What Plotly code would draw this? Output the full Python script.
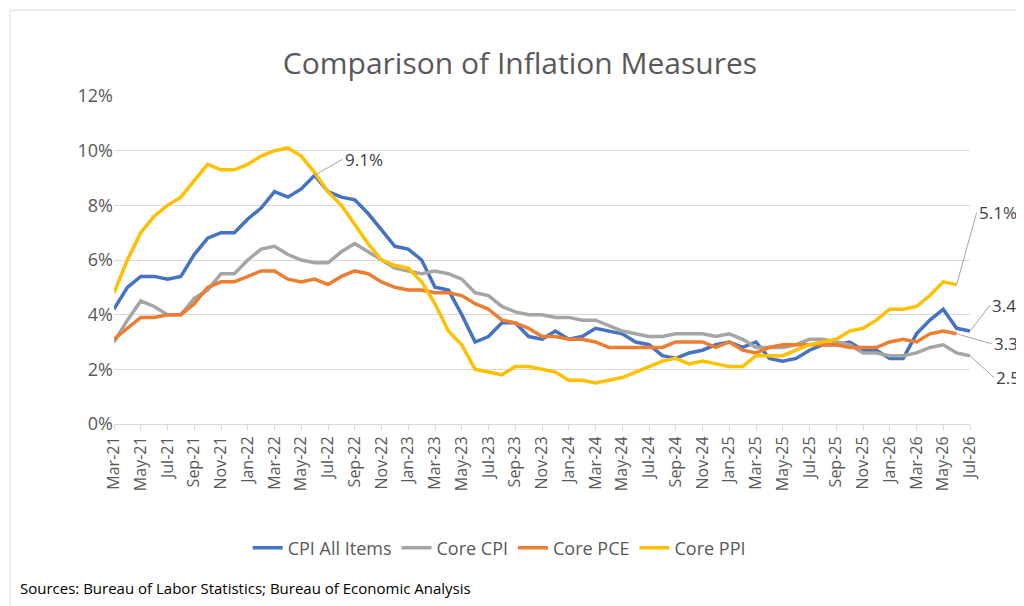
import plotly.graph_objects as go

# Monthly, Mar-21 .. Jul-26
months = []
names = ['Jan', 'Feb', 'Mar', 'Apr', 'May', 'Jun', 'Jul', 'Aug', 'Sep', 'Oct', 'Nov', 'Dec']
for y in range(21, 27):
    for m in names:
        months.append(f'{m}-{y}')
months = months[months.index('Mar-21'):months.index('Jul-26') + 1]

cpi_all = [4.2, 5.0, 5.4, 5.4, 5.3, 5.4, 6.2, 6.8, 7.0, 7.0, 7.5, 7.9, 8.5, 8.3, 8.6,
           9.1, 8.5, 8.3, 8.2, 7.7, 7.1, 6.5, 6.4, 6.0, 5.0, 4.9, 4.0, 3.0, 3.2, 3.7,
           3.7, 3.2, 3.1, 3.4, 3.1, 3.2, 3.5, 3.4, 3.3, 3.0, 2.9, 2.5, 2.4, 2.6, 2.7,
           2.9, 3.0, 2.8, 3.0, 2.4, 2.3, 2.4, 2.7, 2.9, 2.9, 3.0, 2.7, 2.7, 2.4, 2.4,
           3.3, 3.8, 4.2, 3.5, 3.4]
core_cpi = [3.0, 3.8, 4.5, 4.3, 4.0, 4.0, 4.6, 4.9, 5.5, 5.5, 6.0, 6.4, 6.5, 6.2, 6.0,
            5.9, 5.9, 6.3, 6.6, 6.3, 6.0, 5.7, 5.6, 5.5, 5.6, 5.5, 5.3, 4.8, 4.7, 4.3,
            4.1, 4.0, 4.0, 3.9, 3.9, 3.8, 3.8, 3.6, 3.4, 3.3, 3.2, 3.2, 3.3, 3.3, 3.3,
            3.2, 3.3, 3.1, 2.8, 2.8, 2.8, 2.9, 3.1, 3.1, 3.0, 2.9, 2.6, 2.6, 2.5, 2.5,
            2.6, 2.8, 2.9, 2.6, 2.5]
core_pce = [3.1, 3.5, 3.9, 3.9, 4.0, 4.0, 4.4, 5.0, 5.2, 5.2, 5.4, 5.6, 5.6, 5.3, 5.2,
            5.3, 5.1, 5.4, 5.6, 5.5, 5.2, 5.0, 4.9, 4.9, 4.8, 4.8, 4.7, 4.4, 4.2, 3.8,
            3.7, 3.5, 3.2, 3.2, 3.1, 3.1, 3.0, 2.8, 2.8, 2.8, 2.8, 2.8, 3.0, 3.0, 3.0,
            2.8, 3.0, 2.7, 2.6, 2.8, 2.9, 2.9, 2.9, 2.9, 2.9, 2.8, 2.8, 2.8, 3.0, 3.1,
            3.0, 3.3, 3.4, 3.3]
core_ppi = [4.8, 6.0, 7.0, 7.6, 8.0, 8.3, 8.9, 9.5, 9.3, 9.3, 9.5, 9.8, 10.0, 10.1, 9.8,
            9.2, 8.5, 8.0, 7.3, 6.6, 6.0, 5.8, 5.7, 5.2, 4.4, 3.4, 2.9, 2.0, 1.9, 1.8,
            2.1, 2.1, 2.0, 1.9, 1.6, 1.6, 1.5, 1.6, 1.7, 1.9, 2.1, 2.3, 2.4, 2.2, 2.3,
            2.2, 2.1, 2.1, 2.5, 2.5, 2.5, 2.7, 2.9, 3.0, 3.1, 3.4, 3.5, 3.8, 4.2, 4.2,
            4.3, 4.7, 5.2, 5.1]

series = [
    ('CPI All Items', cpi_all, '#4472C4'),
    ('Core CPI', core_cpi, '#A5A5A5'),
    ('Core PCE', core_pce, '#ED7D31'),
    ('Core PPI', core_ppi, '#FFC000'),
]

fig = go.Figure()
for name, vals, color in series:
    fig.add_trace(go.Scatter(x=months[:len(vals)], y=vals, name=name, mode='lines',
                             line=dict(color=color, width=3.5)))

# data labels with leader lines
labels = [
    (months[15], cpi_all[15], '9.1%', 28, -16),
    (months[63], core_ppi[63], '5.1%', 20, -72),
    (months[64], cpi_all[64], '3.4%', 20, -26),
    (months[63], core_pce[63], '3.3%', 35, 10),
    (months[64], core_cpi[64], '2.5%', 24, 22),
]
for x, y, txt, ax, ay in labels:
    fig.add_annotation(x=x, y=y, text=txt, showarrow=True, arrowhead=0, arrowwidth=1,
                       arrowcolor='#A5A5A5', ax=ax, ay=ay, xanchor='left',
                       font=dict(size=17, color='#404040'))

fig.add_annotation(text='Sources: Bureau of Labor Statistics; Bureau of Economic Analysis',
                   xref='paper', yref='paper', x=-0.112, y=-0.5, xanchor='left',
                   yanchor='middle', showarrow=False, font=dict(size=15, color='black'))

fig.add_shape(type='rect', xref='paper', yref='paper', x0=-0.1215, x1=1.07, y0=-0.573, y1=1.262,
              line=dict(color='#D9D9D9', width=1))

fig.update_layout(
    width=1024, height=606,
    title=dict(text='Comparison of Inflation Measures', x=0.5, y=0.925,
               font=dict(size=30, color='#595959')),
    font=dict(family='Open Sans, Calibri, sans-serif', color='#595959'),
    plot_bgcolor='white', paper_bgcolor='white',
    margin=dict(l=106, r=62, t=88, b=190),
    legend=dict(orientation='h', x=0.45, y=-0.378, xanchor='center', yanchor='middle',
                font=dict(size=18, color='#595959')),
    xaxis=dict(type='category', categoryarray=months, tickvals=months[::2],
               range=[0, len(months) - 1],
               tickangle=-90, tickfont=dict(size=16), showgrid=False,
               showline=True, linecolor='#D9D9D9', ticks='outside', tickcolor='#D9D9D9'),
    yaxis=dict(range=[0, 12], dtick=2, ticksuffix='%', tickfont=dict(size=18),
               gridcolor='#D9D9D9', zeroline=False),
)

fig.write_html('out.html')
